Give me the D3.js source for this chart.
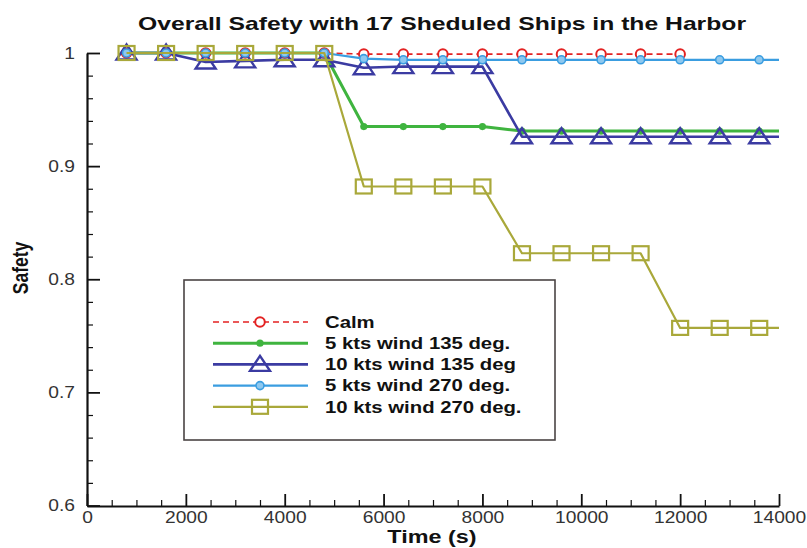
<!DOCTYPE html>
<html>
<head>
<meta charset="utf-8">
<script src="https://cdn.jsdelivr.net/npm/d3@7"></script>
<style>
  html, body { margin: 0; padding: 0; background: #fff; }
  svg { display: block; }
  text { font-family: "Liberation Sans", Arial, sans-serif; }
</style>
</head>
<body>
<svg id="chart" width="807" height="548"></svg>
<script>
// ---------------- data ----------------
const title = "Overall Safety with 17 Sheduled Ships in the Harbor";
const xLabel = "Time (s)";
const yLabel = "Safety";
const xTicks = [0, 2000, 4000, 6000, 8000, 10000, 12000, 14000];
const yTicks = [0.6, 0.7, 0.8, 0.9, 1];

const times = [800, 1600, 2400, 3200, 4000, 4800, 5600, 6400, 7200, 8000,
               8800, 9600, 10400, 11200, 12000, 12800, 13600, 14000];
const calm       = [1, 1, 1, 1, 1, 1, 0.999, 0.999, 0.999, 0.999, 0.999, 0.999, 0.999, 0.999, 0.999];
const wind5_135  = [1, 1, 1, 1, 1, 1, 0.935, 0.935, 0.935, 0.935, 0.931, 0.931, 0.931, 0.931, 0.931, 0.931, 0.931, 0.931];
const wind10_135 = [1, 1, 0.992, 0.993, 0.994, 0.994, 0.987, 0.988, 0.988, 0.988, 0.926, 0.926, 0.926, 0.926, 0.926, 0.926, 0.926, 0.926];
const wind5_270  = [1, 1, 1, 1, 1, 1, 0.995, 0.994, 0.994, 0.994, 0.994, 0.994, 0.994, 0.994, 0.994, 0.994, 0.994, 0.994];
const wind10_270 = [1, 1, 1, 1, 1, 1, 0.882, 0.882, 0.882, 0.882, 0.823, 0.823, 0.823, 0.823, 0.757, 0.757, 0.757, 0.757];
const seriesNames = ["Calm", "5 kts wind 135 deg.", "10 kts wind 135 deg", "5 kts wind 270 deg.", "10 kts wind 270 deg."];
const markedPoints = 17; // symbols are drawn at the first 17 sample times

// ---------------- styles ----------------
const styles = [
  { values: calm,       color: "#e32222", width: 1.6, dash: "6,4", marker: "circle" },
  { values: wind5_135,  color: "#3fb43f", width: 3,   dash: null,  marker: "dot" },
  { values: wind10_135, color: "#3b3ba2", width: 2.6, dash: null,  marker: "triangle" },
  { values: wind5_270,  color: "#3a9de0", width: 2.2, dash: null,  marker: "ring" },
  { values: wind10_270, color: "#a9a83a", width: 2.2, dash: null,  marker: "square" }
];

const svg = d3.select("#chart");
const x = d3.scaleLinear().domain([0, 14000]).range([87, 779]);
const y = d3.scaleLinear().domain([0.6, 1]).range([505.5, 53]);

function stretch(sel, k) {
  sel.each(function () {
    const len = this.getComputedTextLength();
    d3.select(this).attr("textLength", len * k).attr("lengthAdjust", "spacingAndGlyphs");
  });
}

function drawMarker(g, type, color, cx, cy) {
  if (type === "circle") {
    g.append("circle").attr("cx", cx).attr("cy", cy).attr("r", 4.8)
      .attr("fill", "#fff").attr("stroke", color).attr("stroke-width", 2);
  } else if (type === "dot") {
    g.append("circle").attr("cx", cx).attr("cy", cy).attr("r", 3.6).attr("fill", color);
  } else if (type === "triangle") {
    const w = 20, h = 15;
    g.append("path")
      .attr("d", `M${cx},${cy - h / 2 - 1}L${cx + w / 2},${cy + h / 2 - 1}L${cx - w / 2},${cy + h / 2 - 1}Z`)
      .attr("fill", "none").attr("stroke", color).attr("stroke-width", 2.4)
      .attr("stroke-linejoin", "miter");
  } else if (type === "ring") {
    g.append("circle").attr("cx", cx).attr("cy", cy).attr("r", 4)
      .attr("fill", "#8ec8ef").attr("stroke", color).attr("stroke-width", 1.6);
  } else if (type === "square") {
    const w = 16, h = 14;
    g.append("rect").attr("x", cx - w / 2).attr("y", cy - h / 2).attr("width", w).attr("height", h)
      .attr("fill", "none").attr("stroke", color).attr("stroke-width", 2.2);
  }
}

// ---------------- axes ----------------
const minorX = d3.range(0, 14001, 500).filter(v => v % 2000 !== 0);
const minorY = d3.range(0, 21).map(i => 0.6 + i * 0.02).filter((v, i) => i % 5 !== 0);

const xMinor = svg.append("g").attr("transform", "translate(0,506)")
  .call(d3.axisBottom(x).tickValues(minorX).tickSize(-6).tickSizeOuter(0).tickFormat(""));
const yMinor = svg.append("g").attr("transform", "translate(87,0)")
  .call(d3.axisLeft(y).tickValues(minorY).tickSize(-6).tickSizeOuter(0).tickFormat(""));
[xMinor, yMinor].forEach(g => { g.select(".domain").remove(); g.selectAll("line").attr("stroke", "#111").attr("stroke-width", 1.2); });

const xAxis = svg.append("g").attr("transform", "translate(0,506)")
  .call(d3.axisBottom(x).tickValues(xTicks).tickSize(-12).tickSizeOuter(0).tickPadding(6).tickFormat(d3.format("d")));
const yAxis = svg.append("g").attr("transform", "translate(87,0)")
  .call(d3.axisLeft(y).tickValues(yTicks).tickSize(-13).tickSizeOuter(0).tickPadding(12)
        .tickFormat(d => d === 1 ? "1" : d.toFixed(1)));
[xAxis, yAxis].forEach(g => {
  g.select(".domain").attr("stroke", "#111").attr("stroke-width", 2.2);
  g.selectAll(".tick line").attr("stroke", "#111").attr("stroke-width", 1.8);
  g.selectAll("text").attr("font-size", 16).attr("fill", "#333")
    .attr("font-family", "'Liberation Sans', Arial, sans-serif");
  stretch(g.selectAll("text"), 1.2);
});

// ---------------- series ----------------
styles.forEach(s => {
  const pts = s.values.map((v, i) => [times[i], v]);
  const g = svg.append("g");
  g.append("path").datum(pts)
    .attr("d", d3.line().x(d => x(d[0])).y(d => y(d[1])))
    .attr("fill", "none").attr("stroke", s.color).attr("stroke-width", s.width)
    .attr("stroke-dasharray", s.dash).attr("stroke-linejoin", "round");
  pts.slice(0, markedPoints).forEach(d => drawMarker(g, s.marker, s.color, x(d[0]), y(d[1])));
});

// ---------------- legend ----------------
const leg = svg.append("g");
leg.append("rect").attr("x", 184).attr("y", 280).attr("width", 371).attr("height", 160)
  .attr("fill", "#fff").attr("stroke", "#4a4444").attr("stroke-width", 1.6);
styles.forEach((s, i) => {
  const yy = 322 + i * 21.2;
  leg.append("line").attr("x1", 213).attr("x2", 308).attr("y1", yy).attr("y2", yy)
    .attr("stroke", s.color).attr("stroke-width", s.width).attr("stroke-dasharray", s.dash);
  drawMarker(leg, s.marker, s.color, 260, yy);
  const t = leg.append("text").attr("x", 325).attr("y", yy + 5.8)
    .attr("font-size", 16).attr("font-weight", "bold").attr("fill", "#111")
    .text(seriesNames[i]);
  stretch(t, 1.27);
});

// ---------------- titles ----------------
const tt = svg.append("text").attr("x", 442).attr("y", 30).attr("text-anchor", "middle")
  .attr("font-size", 19).attr("font-weight", "bold").attr("fill", "#111").text(title);
stretch(tt, 1.3);
const xl = svg.append("text").attr("x", 432).attr("y", 543).attr("text-anchor", "middle")
  .attr("font-size", 18).attr("font-weight", "bold").attr("fill", "#111").text(xLabel);
stretch(xl, 1.3);
svg.append("text").attr("transform", "translate(28,268) rotate(-90) scale(1,1.25)").attr("text-anchor", "middle")
  .attr("font-size", 17.5).attr("font-weight", "bold").attr("fill", "#111").text(yLabel);
</script>
</body>
</html>
